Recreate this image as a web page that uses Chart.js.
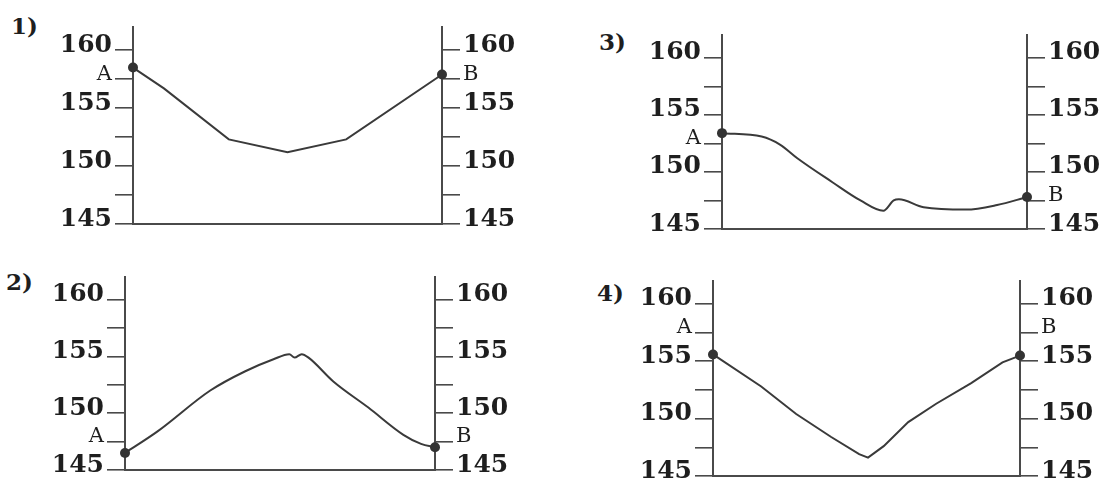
<!DOCTYPE html>
<html>
<head>
<meta charset="utf-8">
<script src="https://cdn.jsdelivr.net/npm/chart.js@4"></script>
<style>
  html, body { margin: 0; padding: 0; background: #fff; width: 1102px; height: 480px; overflow: hidden; }
  .box { position: absolute; }
  .num { position: absolute; font: bold 23px "DejaVu Serif", "Liberation Serif", serif; line-height: 23px; color: #1e1e1e; }
</style>
</head>
<body>
<div class="num" style="left:11px;top:14px">1)</div>
<div class="num" style="left:599px;top:30px">3)</div>
<div class="num" style="left:6px;top:270px">2)</div>
<div class="num" style="left:597px;top:281px">4)</div>

<div class="box" id="b1"><canvas id="c1"></canvas></div>
<div class="box" id="b2"><canvas id="c2"></canvas></div>
<div class="box" id="b3"><canvas id="c3"></canvas></div>
<div class="box" id="b4"><canvas id="c4"></canvas></div>

<script>
// --- datos: marcas del eje y perfiles (distancia relativa A->B, altura) ---
const yTicks = [145, 147.5, 150, 152.5, 155, 157.5, 160];
const yMin = 145;
const yMax = 162;

const dist1 = [0, 0.10, 0.31, 0.50, 0.69, 1];
const elev1 = [158.5, 156.7, 152.3, 151.2, 152.3, 157.9];

const dist2 = [0, 0.105, 0.275, 0.388, 0.479, 0.53, 0.547, 0.57, 0.592, 0.672, 0.785, 0.898, 0.955, 1];
const elev2 = [146.5, 148.4, 152.0, 153.7, 154.75, 155.2, 154.9, 155.2, 154.9, 152.8, 150.5, 148.1, 147.3, 147.0];

const dist3 = [0, 0.13, 0.19, 0.247, 0.362, 0.454, 0.529, 0.563, 0.58, 0.661, 0.80, 0.902, 1];
const elev3 = [153.4, 153.1, 152.4, 151.2, 149.1, 147.5, 146.6, 147.5, 147.6, 146.9, 146.7, 147.1, 147.8];

const dist4 = [0, 0.157, 0.271, 0.385, 0.476, 0.505, 0.556, 0.636, 0.727, 0.841, 0.943, 1];
const elev4 = [155.6, 152.8, 150.4, 148.4, 146.9, 146.6, 147.6, 149.7, 151.3, 153.1, 154.9, 155.5];

// marca menor donde va la letra A (izq.) y B (der.)
const aTicks = [157.5, 147.5, 152.5, 157.5];
const bTicks = [157.5, 147.5, 147.5, 157.5];

const FONT = '"DejaVu Serif", "Liberation Serif", serif';
const INK = '#1e1e1e';
const AXIS = '#4a4a4a';
const LINE = '#3a3a3a';
const SIDE = 100;  // ancho reservado para cada eje y
const PAD = 24;

function tickFont(ctx) {
    if (ctx.tick && ctx.tick.value % 5 !== 0) {
        return { family: FONT, size: 21, weight: 'normal', lineHeight: 1 };
    }
    return { family: FONT, size: 25, weight: 'bold', lineHeight: 1 };
}

function yAxis(position, letter, letterTick) {
    return {
        type: 'linear',
        position: position,
        min: yMin,
        max: yMax,
        afterBuildTicks: (scale) => {
            scale.ticks = yTicks.map(v => ({ value: v }));
        },
        afterFit: (scale) => {
            scale.width = SIDE;
            scale.paddingTop = 0;
            scale.paddingBottom = 0;
        },
        border: { display: true, color: AXIS, width: 2 },
        grid: {
            display: true,
            drawOnChartArea: false,
            drawTicks: true,
            tickLength: 18,
            color: AXIS,
            lineWidth: 1.6
        },
        ticks: {
            autoSkip: false,
            padding: 3,
            labelOffset: -5,
            color: INK,
            font: tickFont,
            callback: (value) => {
                if (value % 5 === 0) return String(value);
                if (value === letterTick) return letter;
                return '';
            }
        }
    };
}

function makeProfile(boxId, canvasId, dist, elev, aTick, bTick, smooth, axL, axR, top, bottom) {
    const box = document.getElementById(boxId);
    box.style.left = (axL - SIDE) + 'px';
    box.style.top = (top - PAD) + 'px';
    box.style.width = (axR - axL + 2 * SIDE) + 'px';
    box.style.height = (bottom - top + 2 * PAD) + 'px';

    const points = dist.map((d, i) => ({ x: d, y: elev[i] }));
    const last = points.length - 1;

    new Chart(document.getElementById(canvasId), {
        type: 'line',
        data: {
            datasets: [{
                data: points,
                borderColor: LINE,
                borderWidth: 2,
                cubicInterpolationMode: smooth ? 'monotone' : 'default',
                tension: 0,
                pointRadius: (ctx) => (ctx.dataIndex === 0 || ctx.dataIndex === last) ? 5 : 0,
                pointBackgroundColor: '#333',
                pointBorderColor: '#333',
                pointBorderWidth: 0,
                clip: false,
                yAxisID: 'y'
            }]
        },
        options: {
            responsive: true,
            maintainAspectRatio: false,
            animation: false,
            layout: { padding: { top: PAD, bottom: PAD, left: 0, right: 0 } },
            plugins: {
                legend: { display: false },
                tooltip: { enabled: false }
            },
            scales: {
                x: {
                    type: 'linear',
                    min: 0,
                    max: 1,
                    afterFit: (scale) => {
                        scale.height = 0;
                        scale.paddingLeft = 0;
                        scale.paddingRight = 0;
                    },
                    border: { display: true, color: AXIS, width: 2 },
                    grid: { display: false, drawTicks: false },
                    ticks: { display: false }
                },
                y: yAxis('left', 'A', aTick),
                y2: yAxis('right', 'B', bTick)
            }
        }
    });
}

makeProfile('b1', 'c1', dist1, elev1, aTicks[0], bTicks[0], false, 133, 442, 27, 224);
makeProfile('b2', 'c2', dist2, elev2, aTicks[1], bTicks[1], true, 125, 435, 277, 470);
makeProfile('b3', 'c3', dist3, elev3, aTicks[2], bTicks[2], true, 722, 1027, 35, 229);
makeProfile('b4', 'c4', dist4, elev4, aTicks[3], bTicks[3], false, 713, 1020, 281, 476);
</script>
</body>
</html>
